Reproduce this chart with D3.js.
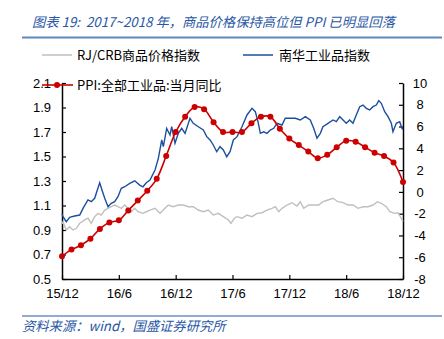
<!DOCTYPE html>
<html><head><meta charset="utf-8">
<script src="https://cdn.jsdelivr.net/npm/d3@7"></script>
<style>
html,body{margin:0;padding:0;background:#fff;}
svg{display:block;}
text.pre{white-space:pre;}
</style></head>
<body>
<svg id="c" width="444" height="339"></svg>
<script>
const titleText = "图表 19:  2017~2018 年，商品价格保持高位但 PPI 已明显回落";
const sourceText = "资料来源：wind，国盛证券研究所";
const seriesNames = ["RJ/CRB商品价格指数", "南华工业品指数", "PPI:全部工业品:当月同比"];
const xTickLabels = ["15/12","16/6","16/12","17/6","17/12","18/6","18/12"];
const leftTicks = [0.5,0.7,0.9,1.1,1.3,1.5,1.7,1.9,2.1];
const rightTicks = [-8,-6,-4,-2,0,2,4,6,8,10];

// PPI YoY, monthly 2015-12 .. 2018-12 (month index 0..36)
const ppi = [-5.9,-5.3,-4.9,-4.3,-3.4,-2.8,-2.6,-1.7,-0.8,0.1,1.2,3.3,5.5,6.9,7.8,7.6,6.4,5.5,5.5,5.5,6.3,6.9,6.9,5.8,4.9,4.3,3.7,3.1,3.4,4.1,4.7,4.6,4.1,3.6,3.3,2.7,0.9];

// Nanhua industrial index (normalised), [month index, value]
const nanhua = [[0,1.03],[0.11,1.009],[0.45,0.968],[0.81,1.004],[1.34,1.014],[1.87,1.022],[2.22,1.077],[2.74,1.145],[3.09,1.131],[3.45,1.159],[3.73,1.227],[3.98,1.286],[4.22,1.227],[4.51,1.159],[4.86,1.090],[5.20,1.118],[5.56,1.131],[5.91,1.172],[6.26,1.240],[6.62,1.253],[7.15,1.281],[7.68,1.302],[8.20,1.267],[8.55,1.253],[8.90,1.286],[9.29,1.308],[9.82,1.390],[10.17,1.485],[10.53,1.635],[10.70,1.580],[11.05,1.730],[11.40,1.676],[11.58,1.743],[11.93,1.608],[12.28,1.689],[12.64,1.730],[12.99,1.689],[13.51,1.812],[13.86,1.771],[14.39,1.743],[14.92,1.716],[15.28,1.662],[15.63,1.635],[15.97,1.594],[16.33,1.539],[16.68,1.580],[17.03,1.553],[17.39,1.498],[17.74,1.539],[18.09,1.635],[18.48,1.662],[19.00,1.743],[19.53,1.839],[20.06,1.893],[20.41,1.866],[20.69,1.784],[20.94,1.689],[21.29,1.702],[21.64,1.689],[21.99,1.716],[22.35,1.730],[22.70,1.771],[23.23,1.757],[23.57,1.812],[24.10,1.812],[24.63,1.812],[25.16,1.798],[25.69,1.825],[26.21,1.798],[26.57,1.730],[26.92,1.649],[27.27,1.689],[27.55,1.743],[28.08,1.771],[28.61,1.798],[28.96,1.784],[29.32,1.825],[29.67,1.798],[30.01,1.771],[30.37,1.798],[30.72,1.771],[31.07,1.839],[31.43,1.907],[31.78,1.920],[32.13,1.893],[32.48,1.880],[32.83,1.907],[33.18,1.920],[33.44,1.956],[33.71,1.934],[34.07,1.866],[34.42,1.825],[34.77,1.771],[34.94,1.702],[35.29,1.771],[35.65,1.784],[35.89,1.730],[36,1.72]];

// RJ/CRB index (normalised), [month index, value]
const crb = [[0,0.95],[0.11,0.968],[0.45,0.900],[0.81,0.927],[1.16,0.900],[1.51,0.914],[1.87,0.955],[2.40,0.982],[2.74,0.996],[3.09,0.955],[3.45,1.009],[3.80,1.036],[4.15,1.022],[4.51,1.063],[4.86,1.077],[5.20,1.090],[5.56,1.104],[5.91,1.090],[6.26,1.077],[6.62,1.104],[6.97,1.077],[7.32,1.049],[7.68,1.077],[8.02,1.049],[8.55,1.036],[8.90,1.049],[9.29,1.063],[9.82,1.077],[10.35,1.036],[10.87,1.077],[11.22,1.104],[11.75,1.090],[12.28,1.104],[12.81,1.104],[13.33,1.090],[13.86,1.090],[14.39,1.063],[14.92,1.049],[15.45,1.063],[15.97,1.022],[16.50,1.036],[17.03,1.009],[17.56,0.982],[17.84,0.955],[18.19,0.996],[18.48,1.009],[19.00,0.996],[19.53,1.022],[20.06,1.009],[20.59,1.036],[21.12,1.041],[21.64,1.063],[22.17,1.077],[22.52,1.090],[22.88,1.049],[23.23,1.077],[23.75,1.104],[24.28,1.123],[24.81,1.096],[25.16,1.131],[25.52,1.077],[26.05,1.104],[26.57,1.104],[27.10,1.104],[27.55,1.131],[28.08,1.145],[28.61,1.159],[29.14,1.131],[29.67,1.123],[30.19,1.104],[30.72,1.104],[31.25,1.077],[31.78,1.090],[32.31,1.090],[32.83,1.104],[33.29,1.131],[33.71,1.118],[34.24,1.090],[34.60,1.049],[35.13,1.036],[35.47,1.041],[35.82,0.996],[36,0.968]];

const colors = {crb:"#bfbfbf", nanhua:"#1d4f9f", ppi:"#cc0000", title:"#2a57a5", rule:"#5b87c5"};
const svg = d3.select("#c");
svg.append("rect").attr("width",444).attr("height",339).attr("fill","#fff");

const L = 62, R = 403, T = 83, B = 279;
const x = d3.scaleLinear().domain([0,36]).range([L,R]);
const yL = d3.scaleLinear().domain([0.5,2.1]).range([B,T]);
const yR = d3.scaleLinear().domain([-8,10]).range([B,T]);

const cjk = "'Noto Sans CJK SC','Noto Sans',sans-serif";
const num = "'Liberation Sans','Arial',sans-serif";

// title
svg.append("text").attr("class","pre").attr("x",32).attr("y",27).attr("fill",colors.title)
  .attr("font-family",cjk).attr("font-size",13.3).attr("font-style","italic")
  .text(titleText);
svg.append("line").attr("x1",22).attr("x2",442).attr("y1",37.5).attr("y2",37.5)
  .attr("stroke",colors.rule).attr("stroke-width",2);

// legend row
svg.append("line").attr("x1",42).attr("x2",72).attr("y1",55).attr("y2",55).attr("stroke",colors.crb).attr("stroke-width",1.5);
svg.append("text").attr("x",77).attr("y",60).attr("font-family",cjk).attr("font-size",13).attr("fill","#000").text(seriesNames[0]);
svg.append("line").attr("x1",243).attr("x2",273).attr("y1",55).attr("y2",55).attr("stroke",colors.nanhua).attr("stroke-width",1.5);
svg.append("text").attr("x",279).attr("y",60).attr("font-family",cjk).attr("font-size",13).attr("fill","#000").text(seriesNames[1]);

// axes
const gx = svg.append("g").attr("transform",`translate(0,${B})`)
  .call(d3.axisBottom(x).tickValues(d3.range(0,37,6)).tickSize(-4).tickSizeOuter(0).tickPadding(10)
    .tickFormat((d,i)=>xTickLabels[i]));
const gl = svg.append("g").attr("transform",`translate(${L},0)`)
  .call(d3.axisLeft(yL).tickValues(leftTicks).tickSize(-4).tickSizeOuter(0).tickPadding(11)
    .tickFormat(d3.format(".1f")));
const gr = svg.append("g").attr("transform",`translate(${R},0)`)
  .call(d3.axisRight(yR).tickValues(rightTicks).tickSize(-4).tickSizeOuter(0).tickPadding(17)
    .tickFormat(d=>d));
[gx,gl,gr].forEach(g=>{
  g.selectAll("path.domain").attr("stroke","#000").attr("stroke-width",1.5);
  g.selectAll(".tick line").attr("stroke","#000").attr("stroke-width",1.2);
  g.selectAll("text").attr("font-family",num).attr("font-size",13).attr("fill","#000");
});
gr.selectAll("text").attr("text-anchor","middle");

// lines
const lineL = d3.line().x(d=>x(d[0])).y(d=>yL(d[1]));
svg.append("path").datum(crb).attr("d",lineL).attr("fill","none").attr("stroke",colors.crb).attr("stroke-width",1.4);
svg.append("path").datum(nanhua).attr("d",lineL).attr("fill","none").attr("stroke",colors.nanhua).attr("stroke-width",1.4);

const lineR = d3.line().x((d,i)=>x(i)).y(d=>yR(d)).curve(d3.curveCatmullRom);
svg.append("path").datum(ppi).attr("d",lineR).attr("fill","none").attr("stroke",colors.ppi).attr("stroke-width",1.6);
svg.append("g").selectAll("circle").data(ppi).join("circle")
  .attr("cx",(d,i)=>x(i)).attr("cy",d=>yR(d)).attr("r",3).attr("fill",colors.ppi);

// PPI legend inside plot
svg.append("line").attr("x1",42).attr("x2",73).attr("y1",85).attr("y2",85).attr("stroke",colors.ppi).attr("stroke-width",1.6);
svg.append("circle").attr("cx",57).attr("cy",85).attr("r",3).attr("fill",colors.ppi);
svg.append("text").attr("x",77).attr("y",90).attr("font-family",cjk).attr("font-size",13).attr("fill","#000").text(seriesNames[2]);

// footer
svg.append("line").attr("x1",22).attr("x2",442).attr("y1",316).attr("y2",316).attr("stroke","#2a57a5").attr("stroke-width",1.2);
svg.append("text").attr("x",22).attr("y",331).attr("fill",colors.title)
  .attr("font-family",cjk).attr("font-size",13.3).attr("font-style","italic").text(sourceText);
</script>
</body></html>
